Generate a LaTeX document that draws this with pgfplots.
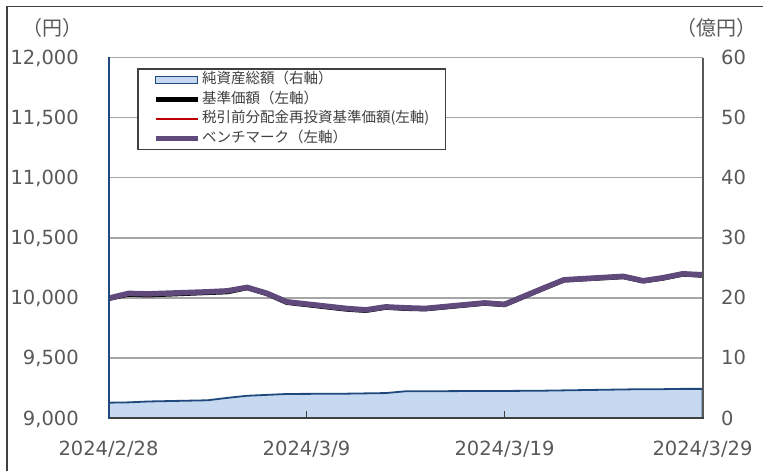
\documentclass[border=0pt]{standalone}
\usepackage{pgfplots}
\usepackage{pgfplotstable}
\pgfplotsset{compat=1.18}
\usepackage{fontspec}
\setmainfont{DejaVu Sans}
\newfontfamily\jp{Noto Sans CJK JP}
\definecolor{navy}{HTML}{1F497D}
\definecolor{areafill}{HTML}{C6D9F1}
\definecolor{bmpurple}{HTML}{604A7B}
\definecolor{redl}{HTML}{C00000}
\definecolor{txt}{HTML}{404040}
\definecolor{lbl}{HTML}{595959}
\definecolor{gridc}{HTML}{A6A6A6}
\definecolor{rax}{HTML}{595959}

\pgfplotsset{
  linleg/.style={legend image code/.code={\draw[##1] (0bp,0bp) -- (42bp,0bp);}},
  arealeg/.style={legend image code/.code={\draw[##1] (0bp,-3.5bp) rectangle (42bp,3.5bp);}},
}

% day index from 2024/2/28, net assets (100 million yen)
\pgfplotstableread{
d v
0 2.55
1 2.6
2 2.75
5 2.95
6 3.35
7 3.7
8 3.85
9 4.0
12 4.05
13 4.1
14 4.15
15 4.45
16 4.45
19 4.5
20 4.5
22 4.55
23 4.6
26 4.75
27 4.8
28 4.8
29 4.85
30 4.85
}\netassets

% day index, benchmark, NAV (yen)
\pgfplotstableread{
d bm nav
0 9996 9994
1 10037 10030
2 10033 10024
5 10050 10044
6 10058 10050
7 10087 10084
8 10038 10035
9 9967 9962
12 9912 9906
13 9900 9895
14 9925 9921
15 9917 9912
16 9912 9908
19 9958 9955
20 9946 9943
22 10083 10081
23 10150 10148
26 10179 10176
27 10142 10140
28 10167 10164
29 10200 10197
30 10192 10188
}\prices

\begin{document}
\begin{tikzpicture}
\useasboundingbox (0,0) rectangle (763bp,-471bp);
\draw[color=txt, line width=1.2bp] (7bp,-6.5bp) rectangle (800bp,-500bp);
\node[font=\jp\fontsize{20bp}{22bp}\selectfont, text=lbl] at (52bp,-28bp) {（円）};
\node[font=\jp\fontsize{20bp}{22bp}\selectfont, text=lbl] at (716bp,-28bp) {（億円）};

\pgfplotsset{common/.style={
  at={(108.5bp,-418bp)}, anchor=south west, scale only axis,
  width=594bp, height=360.5bp, xmin=0, xmax=30,
  axis line style={draw=none},
  tick label style={font=\fontsize{19.5bp}{22bp}\selectfont, text=lbl},
  /pgf/number format/assume math mode=true,
}}

\begin{axis}[common, ymin=0, ymax=60, ytick={0,10,...,60},
  yticklabel pos=right, ytick style={draw=none}, xtick=\empty,
  yticklabel style={anchor=west, inner sep=0pt, text height=14bp, text depth=0pt, xshift=18.5bp}]
\addplot[draw=navy, line width=1.8bp, fill=areafill] table[x=d,y=v] {\netassets} \closedcycle;
\end{axis}

\begin{axis}[common, ymin=9000, ymax=12000, ytick={9000,9500,...,12000},
  scaled y ticks=false,
  /pgf/number format/1000 sep={,},
  ymajorgrids, grid style={gridc, line width=1.5bp},
  ytick style={draw=none}, yticklabel pos=left,
  yticklabel style={anchor=east, inner sep=0pt, text height=14bp, text depth=0pt, xshift=-29.5bp},
  xtick={0,10,20,30}, xticklabels={2024/2/28,2024/3/9,2024/3/19,2024/3/29},
  xtick pos=lower, tick align=inside, major tick length=7bp,
  xtick style={txt, line width=1.5bp},
  xticklabel style={anchor=north, inner sep=0pt, text height=14bp, text depth=0pt, yshift=-23bp},
  legend style={at={(axis description cs:0.0488,0.97)}, anchor=north west,
    draw=txt, line width=1.2bp, fill=white,
    font=\jp\fontsize{14.5bp}{16bp}\selectfont, text=txt,
    inner xsep=15bp, inner ysep=1bp, row sep=0pt, column sep=0pt,
    cells={anchor=west},
    nodes={inner ysep=2.8bp, inner xsep=1.5bp, text height=11bp, text depth=3bp}},
  linleg,
]
\addlegendimage{arealeg, draw=navy, fill=areafill, line width=1.2bp}
\addlegendentry{純資産総額（右軸）}
\addplot[black, line width=5bp, line join=round] table[x=d,y=nav] {\prices};
\addlegendentry{基準価額（左軸）}
\addplot[redl, line width=2.5bp, line join=round] table[x=d,y=nav] {\prices};
\addlegendentry{税引前分配金再投資基準価額(左軸)}
\addplot[bmpurple, line width=5.5bp, line join=round] table[x=d,y=bm] {\prices};
\addlegendentry{ベンチマーク（左軸）}
\end{axis}

\draw[gridc, line width=1.5bp] (108.5bp,-57.5bp) -- (702.5bp,-57.5bp);
\draw[rax, line width=2bp] (702.5bp,-57.5bp) -- (702.5bp,-418bp);
\draw[txt, line width=2.5bp] (108.5bp,-418bp) -- (703.5bp,-418bp);
\draw[navy, line width=2bp] (108.5bp,-56.5bp) -- (108.5bp,-419bp);
\end{tikzpicture}
\end{document}
